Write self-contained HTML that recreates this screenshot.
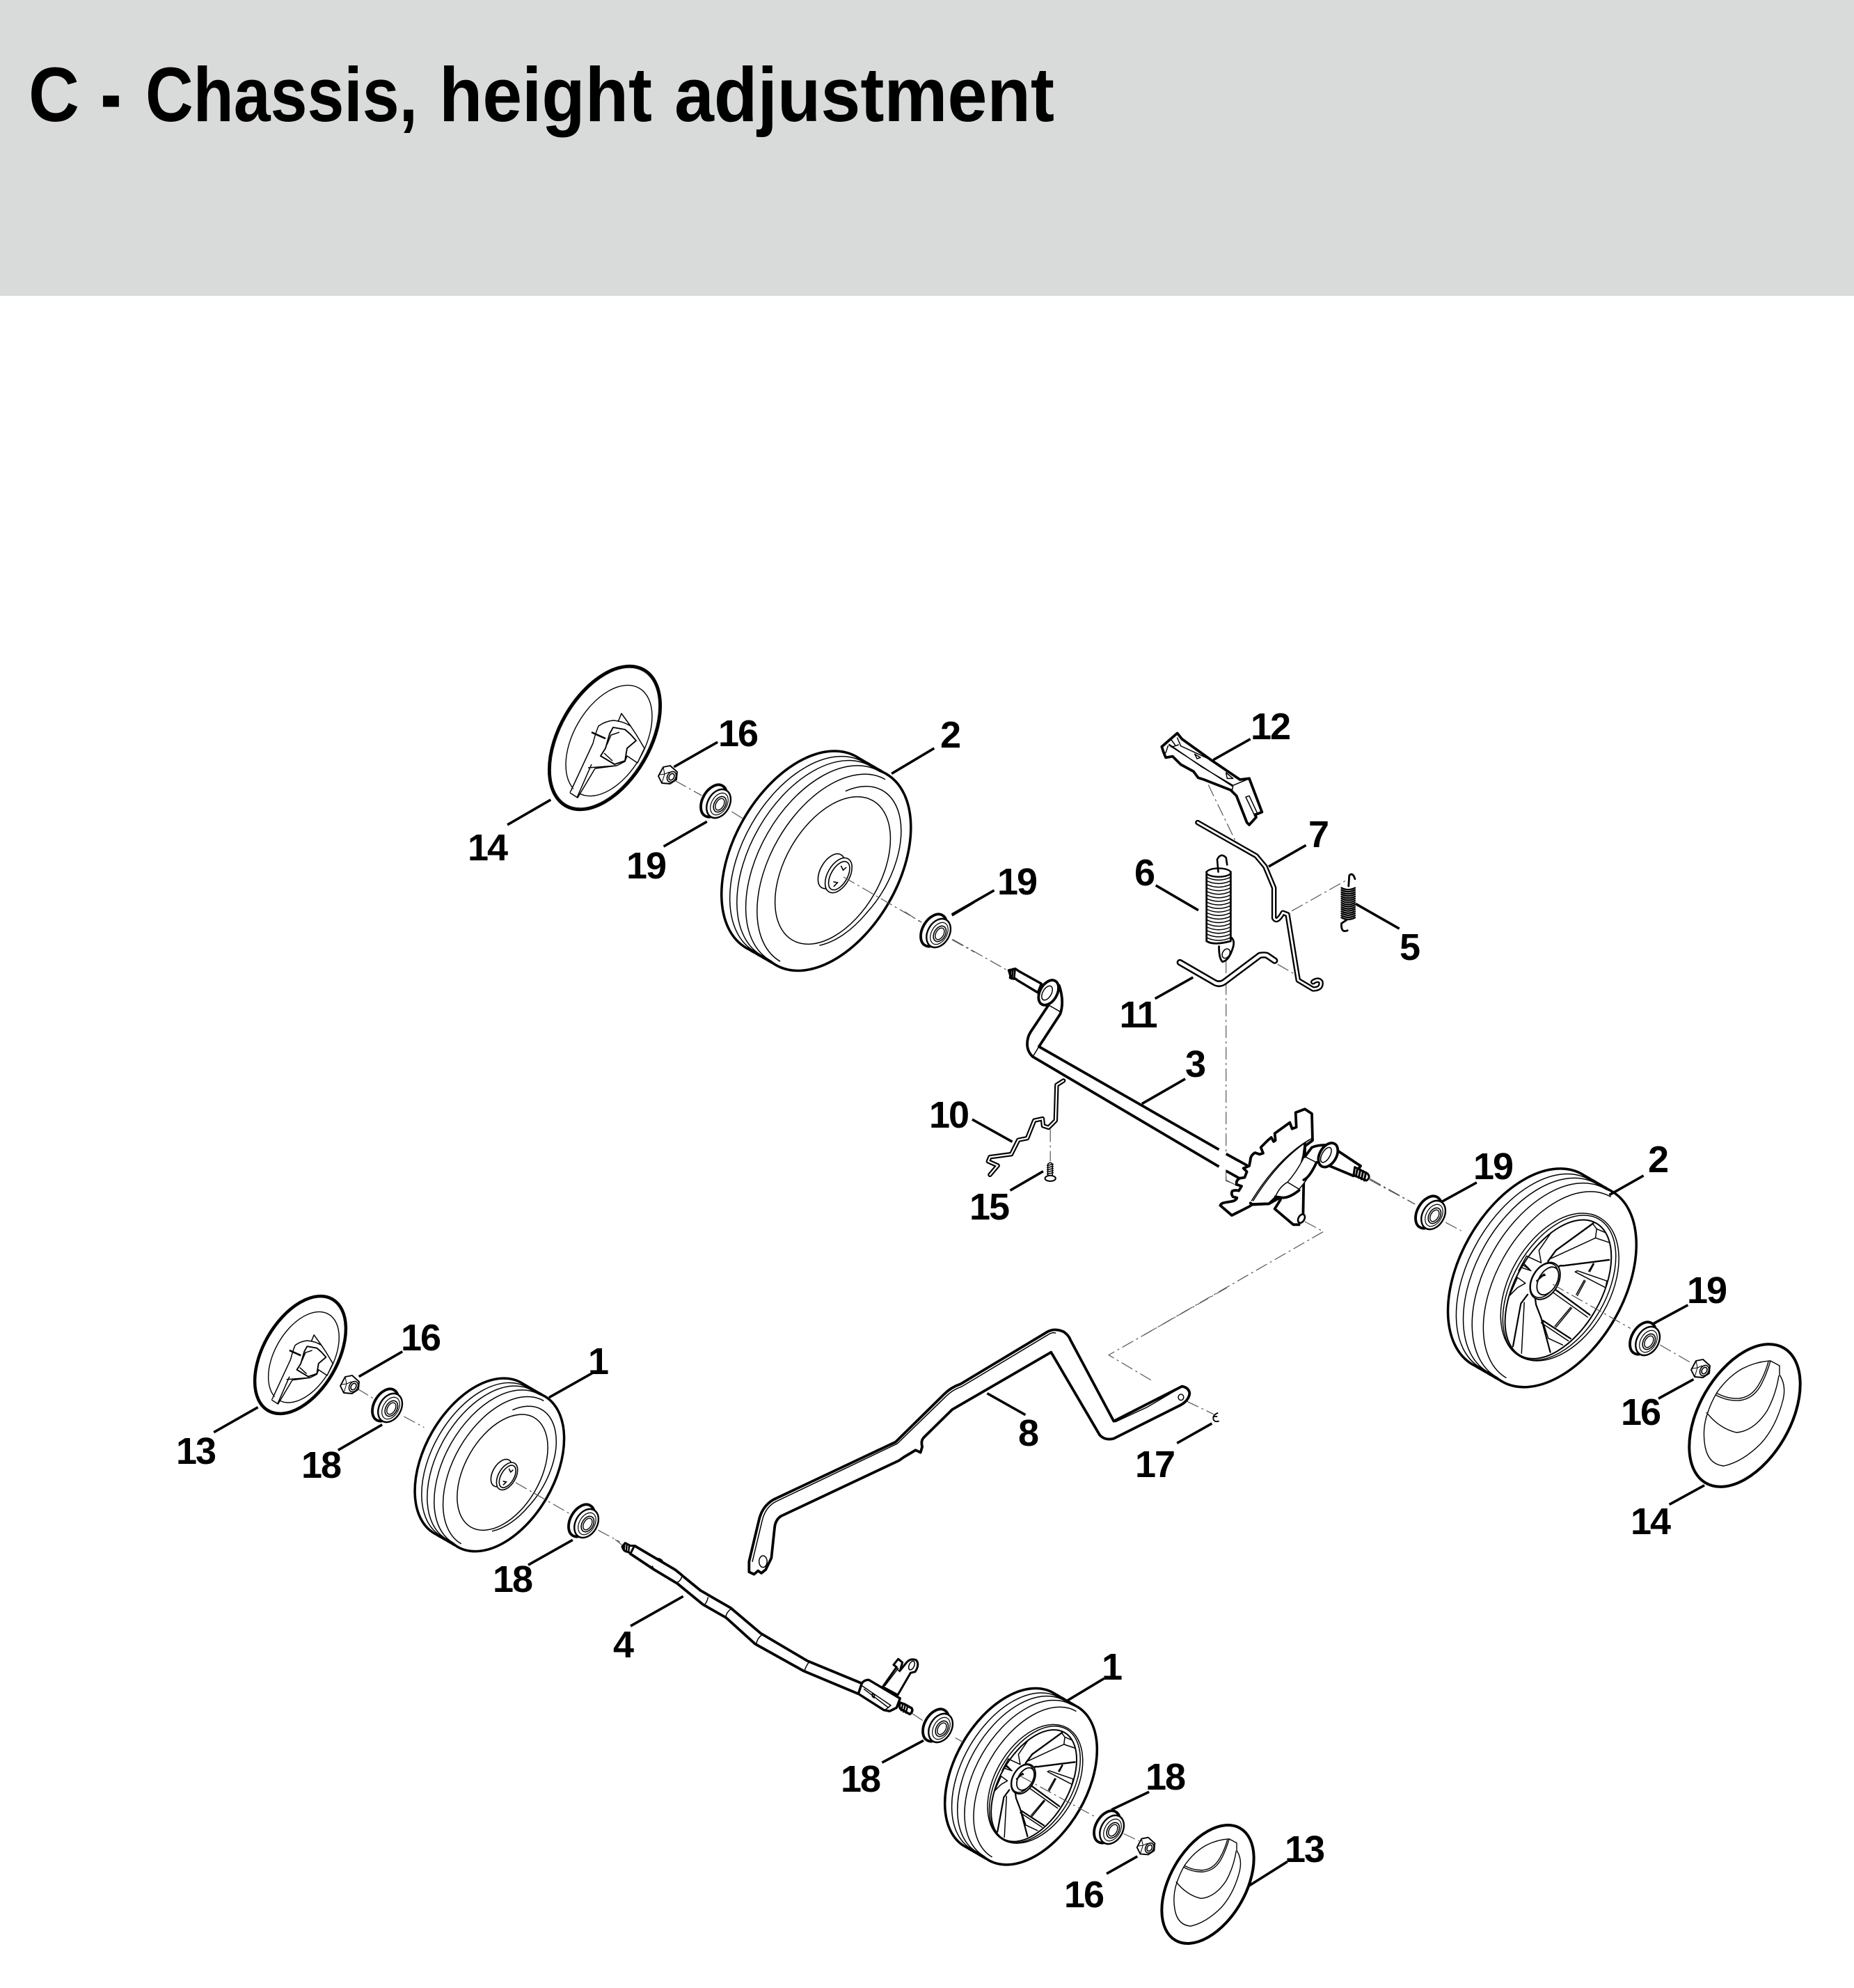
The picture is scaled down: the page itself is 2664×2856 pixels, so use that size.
<!DOCTYPE html>
<html lang="en"><head><meta charset="utf-8"><title>C - Chassis, height adjustment</title>
<style>
html,body{margin:0;padding:0;background:#fff}
svg{display:block}
svg *{vector-effect:non-scaling-stroke}
.t{font:bold 54px "Liberation Sans",sans-serif;text-anchor:middle;letter-spacing:-2px;fill:#000}
.l{stroke:#000;stroke-width:3.6;fill:none;stroke-linecap:butt}
.d{stroke:#555;stroke-width:1.2;fill:none;stroke-dasharray:18 5 3 5}
.k{stroke:#000;stroke-width:3.8;fill:#fff;stroke-linejoin:round;stroke-linecap:round}
.kn{stroke:#000;stroke-width:3.8;fill:none;stroke-linejoin:round;stroke-linecap:round}
.n{stroke:#000;stroke-width:1.5;fill:none;stroke-linejoin:round;stroke-linecap:round}
.w{stroke:#fff;fill:none;stroke-linejoin:round;stroke-linecap:round}
.b{stroke:#000;fill:none;stroke-linejoin:round;stroke-linecap:round}
.h{font:bold 110px "Liberation Sans",sans-serif;fill:#000}
</style></head><body>
<svg xmlns="http://www.w3.org/2000/svg" width="2664" height="2856" viewBox="0 0 2664 2856">
<defs>
<g id="tread"><g transform="rotate(30)">
<g fill="none" stroke="#000" stroke-width="7">
<ellipse cx="-50" rx="96" ry="160"/><ellipse cx="-40" rx="96" ry="160"/><ellipse cx="-30" rx="96" ry="160"/><ellipse cx="-20" rx="96" ry="160"/><ellipse cx="-10" rx="96" ry="160"/><ellipse cx="0" rx="96" ry="160"/></g>
<g fill="#fff" stroke="#000" stroke-width="1.5">
<ellipse cx="-50" rx="96" ry="160" stroke="none"/><ellipse cx="-38" rx="96" ry="160"/><ellipse cx="-26" rx="96" ry="160"/><ellipse cx="-11" rx="96" ry="160"/><ellipse cx="0" rx="96" ry="160" stroke="none"/>
<path d="M3,-154 A91,152 0 0 0 3,154" fill="none"/>
</g></g></g>
<g id="plainface"><g transform="rotate(30)" stroke="#000" stroke-width="1.5" fill="none">
<ellipse cx="3" rx="70" ry="118"/>
<path d="M-40,-110 A74,124 0 0 1 76,30 A74,124 0 0 1 40,105" transform="translate(1,0)"/>
<g fill="#fff" stroke-width="1.6">
<ellipse cx="2" cy="2" rx="16" ry="28"/><ellipse cx="14" cy="2" rx="16" ry="28"/><ellipse cx="15" cy="2" rx="12" ry="23"/>
<path d="M10,-12 L16,-8 L18,-14 M12,14 L18,12 L16,20" fill="none"/></g></g></g>
<g id="spk" fill="none" stroke="#000" stroke-width="1.5" stroke-linejoin="round" stroke-linecap="round">
<g transform="rotate(30 337 372)"><ellipse cx="337" cy="372" rx="222" ry="354"/></g>
<g transform="rotate(30 335 375)"><ellipse cx="335" cy="375" rx="206" ry="350"/></g>
<g transform="rotate(30 330 382)"><ellipse cx="330" cy="382" rx="189" ry="337" stroke-width="2"/></g>
<path d="M285,258 L320,210 L485,90" stroke-width="2.4"/>
<path d="M300,245 L495,155 L555,175 M495,155 L500,115 L535,130 M500,115 L485,95"/>
<path d="M330,285 Q335,275 350,278 L555,252" stroke-width="2.4"/>
<path d="M485,268 L465,302 M488,270 L470,304"/>
<path d="M405,305 L540,375 L545,345 L415,300 Z M450,345 L415,410 M445,342 L410,405"/>
<path d="M320,385 L470,495" stroke-width="2.2"/><path d="M310,398 L460,505 M390,465 L320,550 M385,462 L315,545"/>
<path d="M262,520 L385,600" stroke-width="2.2"/><path d="M255,530 L375,610 M285,598 L350,628"/>
<path d="M228,420 L232,450 L255,510 L295,660" stroke-width="2.2"/><path d="M262,525 L285,595"/>
<path d="M195,405 L165,445 L130,635" stroke-width="2.2"/><path d="M180,440 L168,665"/>
<path d="M110,420 L150,330 L185,355 L150,375 L115,410"/>
<path d="M165,285 L210,300 M180,270 L205,295 L175,275"/>
<path d="M190,235 L255,265 L245,210 L300,130 M190,235 L155,300"/>
<g transform="rotate(30 272 345)" fill="#fff"><ellipse cx="272" cy="345" rx="58" ry="88" stroke-width="2"/><ellipse cx="268" cy="345" rx="52" ry="82"/></g>
<g transform="rotate(30 284 345)"><ellipse cx="284" cy="345" rx="40" ry="67" fill="#fff" stroke-width="1.8"/></g>
<path d="M235,345 L262,322 L272,320 M255,325 L268,315" stroke-width="2"/>
</g>
<g id="bearing"><g transform="rotate(30)" fill="#fff" stroke="#000">
<ellipse cx="-5" rx="16" ry="25" stroke-width="3.8"/>
<ellipse cx="3" rx="15.5" ry="22" stroke-width="2.4"/>
<ellipse cx="4" rx="11" ry="17" stroke-width="1.2"/>
<ellipse cx="5" rx="8" ry="12" stroke-width="1.6"/>
<ellipse cx="5" rx="5.5" ry="9" stroke-width="1.4"/></g></g>
<g id="nut">
<path d="M-14,1 L-7,-12 L3,-14 L13,-5 L12,6 L3,12 L-9,11 Z" fill="#fff" stroke="#000" stroke-width="1.9" stroke-linejoin="round"/>
<path d="M-7,-12 L-5,-2 L2,-5 M-5,-2 L-9,11 M-12,-1 L-5,-2" fill="none" stroke="#000" stroke-width="1"/>
<g transform="translate(5,2) rotate(30)" fill="#fff" stroke="#000" stroke-width="1.6"><ellipse rx="6" ry="8"/><ellipse rx="3.5" ry="5"/></g>
</g>
<g id="capb">
<g transform="translate(869,1060) rotate(30)" fill="#fff" stroke="#000"><ellipse rx="65.5" ry="113" stroke-width="4"/><ellipse rx="63" ry="110.5" stroke-width="1"/></g>
<g transform="translate(875,1064) rotate(30)" fill="none" stroke="#000" stroke-width="1.4"><ellipse rx="51" ry="87"/></g>
<g fill="none" stroke="#000" stroke-width="1.5" stroke-linejoin="round">
<path d="M819,1139 L852,1068 Q856,1052 860,1043 Q870,1036 881,1035 Q895,1036 906,1043 L893,1025 L888,1037" fill="#fff"/>
<path d="M819,1139 L830,1146 L855,1104 L886,1100 L898,1094 L901,1086 L916,1096 L926,1075 L914,1055 L906,1043" fill="#fff"/>
<path d="M881,1045 L898,1048 L906,1055 L914,1064 L901,1075 L898,1093 L883,1098 L863,1086 L870,1075 L876,1054 Z" fill="#fff" stroke-width="1.9"/>
<path d="M868,1082 L880,1093 M872,1070 L878,1056 L890,1052"/>
<path d="M850,1052 L870,1061" stroke-width="2.6"/>
<path d="M845,1103 L885,1100 M829,1146 L850,1098"/>
</g></g>
<g id="caps">
<g transform="translate(2507,2033.5) rotate(30)" fill="#fff" stroke="#000"><ellipse rx="65.5" ry="112" stroke-width="4"/></g>
<g fill="none" stroke="#000" stroke-width="1.4" stroke-linejoin="round">
<path d="M2544,1955 L2557,1962 L2557,1975 Q2567,1990 2562,2011 Q2552,2050 2530,2074 Q2504,2100 2477,2106 Q2455,2104 2450,2078 Q2446,2056 2452,2035 Q2458,2015 2468,1999 Q2484,1977 2504,1966 Q2524,1956 2544,1955 Z"/>
<path d="M2466,2001 Q2482,2010 2499,2009 Q2516,2007 2526,1991 Q2536,1975 2541,1956"/>
<path d="M2465,2004 Q2482,2013 2499,2012 Q2518,2010 2529,1992 Q2538,1976 2544,1955"/>
<path d="M2452,2029 Q2470,2052 2495,2058 Q2520,2056 2539,2027 Q2552,2003 2556,1976"/>
</g></g>
</defs>

<rect x="0" y="0" width="2664" height="425" fill="#d9dbda"/>
<text class="h" x="41" y="174" textLength="73" lengthAdjust="spacingAndGlyphs">C</text>
<text class="h" x="146" y="174" textLength="27" lengthAdjust="spacingAndGlyphs" stroke="#000" stroke-width="3">-</text>
<text class="h" x="209" y="174" textLength="391" lengthAdjust="spacingAndGlyphs">Chassis,</text>
<text class="h" x="631" y="174" textLength="306" lengthAdjust="spacingAndGlyphs">height</text>
<text class="h" x="969" y="174" textLength="546" lengthAdjust="spacingAndGlyphs">adjustment</text>

<!-- wheels -->
<g transform="translate(1194,1249) scale(.98)"><use href="#tread"/><use href="#plainface"/></g>
<g transform="translate(2237,1848) scale(.975)"><use href="#tread"/><g transform="translate(-108,-123) scale(.33333)"><use href="#spk"/></g></g>
<g transform="translate(720,2114) scale(.77)"><use href="#tread"/><use href="#plainface"/></g>
<g transform="translate(1484,2562) scale(.785)"><use href="#tread"/><g transform="translate(-108,-123) scale(.33333)"><use href="#spk"/></g></g>

<!-- caps -->
<use href="#capb"/>
<g transform="translate(431.5,1946.5) scale(.82) translate(-869,-1060)"><use href="#capb"/></g>
<use href="#caps"/>
<g transform="translate(1735.5,2707) scale(.83) translate(-2507,-2033.5)"><use href="#caps"/></g>

<!-- bearings -->
<use href="#bearing" x="1030" y="1153"/>
<use href="#bearing" x="1346" y="1339"/>
<use href="#bearing" x="2057" y="1744"/>
<use href="#bearing" x="2365" y="1925"/>
<use href="#bearing" x="558" y="2021"/>
<use href="#bearing" x="840" y="2187"/>
<use href="#bearing" x="1349" y="2481"/>
<use href="#bearing" x="1595" y="2627"/>
<!-- nuts -->
<use href="#nut" x="960" y="1114"/>
<use href="#nut" x="503" y="1990"/>
<use href="#nut" x="2444" y="1967"/>
<g transform="translate(1647,2653) scale(.95)"><use href="#nut"/></g>

<!-- zoom-1 region -->
<g transform="translate(600,900) scale(.5102,.3571)">
<path class="d" d="M725,620 L800,680 M885,745 L915,772 M1200,1008 L1420,1190 M1505,1260 L1568,1310"/>
<path class="l" d="M722,565 L845,465 M253,798 L375,697 M693,885 L815,785 M1335,592 L1455,490 M1505,1162 L1568,1108"/>
</g>

<!-- part 12 -->
<g transform="translate(1660,1040) scale(.33333)">
<path class="k" d="M28,98 L95,40 L115,65 L240,155 L365,240 L405,235 L460,380 L430,392 L435,402 L405,435 L395,425 L350,310 L325,285 L210,240 L185,232 L165,205 L110,175 L75,140 L45,145 L35,120 Z"/>
<path class="n" d="M60,88 L200,185 L335,265 L395,240 M60,92 L335,270 M70,100 L100,90 M45,125 L55,95 M335,270 L330,290 M110,95 L240,155 M70,70 L85,90 M95,60 L110,95 M170,130 L195,145 L180,150 Z M305,210 L335,235 L310,235 Z M390,315 L405,310 L440,385 L425,388 Z"/>
<path class="l" d="M250,155 L410,65"/>
</g>

<!-- zoom-2 region: linkage parts -->
<g transform="translate(1300,1000) scale(.5102)">
<path class="d" d="M0,607 L50,640 M135,685 L285,770 M855,250 L930,405 M905,745 L905,1365 L945,1380 M1090,605 L1250,515 M1050,755 L1110,790 M410,1220 L410,1310"/>
<!-- 7 -->
<path class="b" stroke-width="7.5" d="M825,356 L990,450 L1015,480 L1040,540 L1040,625 Q1048,640 1065,610 L1078,615 L1108,800 L1150,825 Q1175,825 1172,805 Q1165,795 1150,805"/>
<path class="w" stroke-width="2.8" d="M825,356 L990,450 L1015,480 L1040,540 L1040,625 Q1048,640 1065,610 L1078,615 L1108,800 L1150,825 Q1175,825 1172,805 Q1165,795 1150,805"/>
<!-- 6 -->
<path class="n" d="M883,495 L880,460 Q890,440 905,455 L908,475" style="stroke-width:2.6"/>
<path class="n" style="stroke-width:2.8" d="M850,495 L850,690 M918,495 L918,690 M920,680 Q932,690 922,715 Q912,745 895,748 Q885,740 885,705 M850,690 Q870,703 918,690"/>
<ellipse class="n" style="stroke-width:2.4" cx="884" cy="497" rx="34" ry="12"/>
<path class="n" d="M850,510 q34,16 68,0 m-68,10 q34,16 68,0 m-68,10 q34,16 68,0 m-68,10 q34,16 68,0 m-68,10 q34,16 68,0 m-68,10 q34,16 68,0 m-68,10 q34,16 68,0 m-68,10 q34,16 68,0 m-68,10 q34,16 68,0 m-68,10 q34,16 68,0 m-68,10 q34,16 68,0 m-68,10 q34,16 68,0 m-68,10 q34,16 68,0 m-68,10 q34,16 68,0 m-68,10 q34,16 68,0 m-68,10 q34,16 68,0 m-68,10 q34,16 68,0 m-68,10 q34,16 68,0"/>
<ellipse class="n" cx="905" cy="725" rx="10" ry="14" transform="rotate(30 905 725)"/>
<!-- 5 -->
<path class="n" style="stroke-width:2.8" d="M1250,535 L1252,505 Q1262,495 1268,515 M1245,630 L1230,640 Q1228,668 1247,660"/>
<path class="n" style="stroke-width:2.4" d="M1230,540 q19,10 38,0 m-38,6 q19,10 38,0 m-38,6 q19,10 38,0 m-38,6 q19,10 38,0 m-38,6 q19,10 38,0 m-38,6 q19,10 38,0 m-38,6 q19,10 38,0 m-38,6 q19,10 38,0 m-38,6 q19,10 38,0 m-38,6 q19,10 38,0 m-38,6 q19,10 38,0 m-38,6 q19,10 38,0 m-38,6 q19,10 38,0 m-38,6 q19,10 38,0 m-38,6 q19,10 38,0"/>
<!-- 11 -->
<path class="b" stroke-width="9.5" d="M775,750 L870,805 Q885,815 900,805 L1000,730 Q1012,728 1020,730 L1042,745"/>
<path class="w" stroke-width="4.5" d="M775,750 L870,805 Q885,815 900,805 L1000,730 Q1012,728 1020,730 L1042,745"/>
<!-- 3 shaft -->
<path d="M378,987 L965,1322 L950,1358 L360,1015 Q345,1000 345,980 Q345,960 355,945 L405,870 L430,815 L443,885 Z" fill="#fff"/>
<path class="kn" style="stroke-linecap:butt" d="M378,987 L885,1277 M905,1289 L965,1322 M360,1015 L885,1325 M905,1337 L950,1362"/>
<path class="kn" d="M360,1015 Q345,1000 345,980 Q345,960 355,945 L405,870 M378,987 L438,895 Q450,860 435,815"/>
<path class="n" d="M378,987 L362,1013 M405,870 L440,890"/>
<path class="k" style="stroke-width:3.4" d="M293,772 L312,768 L322,775 L385,810 L375,835 L317,800 L312,796 L300,795 Z"/>
<path class="n" style="stroke-width:2.6" d="M299,770 L296,794 M305,768 L302,796 M311,767 L308,797"/>
<g transform="rotate(30 405 835)"><ellipse class="k" cx="405" cy="835" rx="24" ry="38"/><ellipse class="n" cx="402" cy="838" rx="12" ry="22"/></g>
<!-- 10 -->
<path class="b" stroke-width="6.5" d="M447,1083 L428,1095 L425,1195 L405,1215 L390,1210 L388,1190 L365,1195 L345,1245 L320,1250 L300,1290 L240,1298 L235,1310 L262,1322 L240,1348"/>
<path class="w" stroke-width="2.2" d="M447,1083 L428,1095 L425,1195 L405,1215 L390,1210 L388,1190 L365,1195 L345,1245 L320,1250 L300,1290 L240,1298 L235,1310 L262,1322 L240,1348"/>
<!-- 15 screw -->
<path class="n" d="M403,1350 L403,1318 Q410,1310 416,1318 L416,1350 M401,1322 L418,1318 M401,1328 L418,1324 M401,1334 L418,1330 M401,1340 L418,1336 M401,1346 L418,1342"/>
<ellipse class="k" style="stroke-width:2" cx="410" cy="1358" rx="15" ry="8"/>
<!-- leaders -->
<path class="l" d="M1025,480 L1130,420 M707,533 L827,603 M1270,585 L1393,655 M705,852 L812,792 M133,615 L252,547 M668,1148 L790,1078 M190,1192 L303,1255 M297,1392 L390,1338"/>
</g>

<!-- zoom-8 region: sector -->
<g transform="translate(1640,1560) scale(.33333)">
<path class="d" d="M985,400 L1180,510 M705,585 L785,628 L0,1080"/>
<path class="d" style="stroke-dasharray:none;stroke-width:1" d="M365,360 L365,405 L410,430"/>
<path class="k" d="M340,515 Q345,505 360,503 L395,497 Q412,490 412,482 L395,478 Q385,465 392,453 Q405,448 420,452 L432,432 L410,425 Q408,405 425,398 L445,395 L455,370 L440,355 L465,345 L470,320 Q470,300 490,288 L510,295 L525,290 L515,265 L545,235 L560,222 L570,240 L578,235 L575,205 L640,158 L650,185 L668,178 L665,115 L705,100 L735,120 L738,235 L705,260 L700,300 L660,460 L600,480 L550,508 L480,510 L465,520 L390,558 Z"/>
<path class="n" d="M725,232 Q590,310 475,495 M732,228 Q596,312 482,495"/>
<path class="kn" d="M575,530 L600,490 M575,530 L655,598 L680,598 M700,405 L697,565 M705,250 L705,295 M470,505 L480,512 L550,508 L580,480"/>
<path d="M710,300 L735,265 Q760,255 790,255 L775,330 L755,330 Q720,400 680,450 Q640,482 610,482 L578,478 Q590,440 630,420 Q670,370 700,310 Z" fill="#fff"/>
<path class="kn" d="M705,305 L735,265 Q760,255 790,255 M755,330 Q725,395 700,405 M680,450 Q640,482 610,482 L578,478"/>
<path class="n" d="M700,310 Q670,370 630,415 Q595,435 578,478 M705,305 L755,330 M630,415 L680,445 M755,330 Q720,400 680,445"/>
<path class="k" d="M835,272 L945,345 L915,388 L800,340 Z"/>
<g transform="rotate(30 805 298)"><ellipse class="k" cx="805" cy="298" rx="36" ry="56"/><ellipse class="n" cx="797" cy="302" rx="17" ry="36"/></g>
<path class="k" style="stroke-width:3" d="M920,350 L975,378 Q990,395 970,408 L915,385 Z"/>
<path class="n" style="stroke-width:3" d="M932,355 L925,390 M944,361 L937,396 M956,367 L949,402 M968,373 L961,408"/>
<g transform="rotate(30 690 572)"><ellipse class="k" style="stroke-width:2.6" cx="690" cy="572" rx="13" ry="20"/></g>
</g>

<!-- zoom-3 region -->
<g transform="translate(1950,1600) scale(.4464,.3954)">
<path class="d" d="M40,240 L185,328 M285,395 L335,425 M630,620 L880,780 M975,840 L1075,905"/>
<path class="l" d="M272,320 L385,250 M812,295 L922,225 M950,765 L1065,695 M970,1035 L1083,965 M1005,1420 L1118,1350"/>
</g>

<!-- zoom-4 region -->
<g transform="translate(230,1830) scale(.4464,.3333)">
<path class="d" d="M635,495 L690,540 M785,615 L850,662 M1145,900 L1320,1035 M1410,1105 L1480,1155"/>
<path class="l" d="M640,443 L780,335 M1252,533 L1395,425 M173,683 L315,575 M573,760 L715,650 M1185,1255 L1328,1147"/>
</g>

<!-- zoom-5 region: part 8, 17 -->
<g transform="translate(1050,1850) scale(.4785,.3333)">
<path class="d" d="M1490,0 L1135,290 L1270,405 M1370,490 L1450,545"/>
<path class="k" d="M55,1225 L55,1180 L85,1000 Q95,940 130,912 L495,665 L640,460 Q660,430 690,415 L945,195 Q970,170 1000,190 Q1015,205 1020,225 L1150,575 L1355,425 Q1375,430 1378,455 Q1375,490 1345,510 L1150,650 Q1125,660 1108,635 L962,278 L665,525 L580,645 Q570,660 575,685 L570,710 L555,700 L520,730 L505,745 L150,985 Q135,1000 132,1030 L122,1165 L105,1215 L92,1230 L82,1220 L70,1235 Z"/>
<path class="n" d="M65,1180 L95,1000 Q105,945 135,922 L500,672 L645,470 Q665,440 695,425 L950,205 Q965,190 975,195 M1155,578 L1250,515 L1345,435 M962,278 L1108,635"/>
<ellipse class="n" cx="97" cy="1180" rx="12" ry="25"/>
<ellipse class="n" cx="1352" cy="472" rx="8" ry="13"/>
<path class="n" style="stroke-width:1.8" d="M1462,540 Q1445,550 1450,570 Q1455,580 1465,575 M1450,555 L1460,555"/>
<path class="l" d="M770,455 L885,548 M1340,670 L1445,585"/>
</g>

<!-- part 4 -->
<g transform="translate(880,2200) scale(.33333)">
<path class="d" d="M12,35 L40,58 M1292,785 L1345,820"/>
<path class="k" style="stroke:none" d="M95,62 L270,165 Q290,180 310,198 L380,255 L510,330 L640,440 L840,558 L1075,655 L1060,700 L825,602 L615,485 L490,372 L390,315 L280,225 L180,165 L75,95 Z"/>
<path class="kn" style="stroke-linecap:butt" d="M95,62 L270,165 Q290,180 310,198 L380,255 L510,330 L640,440 L840,558 L1075,655"/>
<path class="kn" style="stroke-linecap:butt" d="M75,95 L180,165 L280,225 L390,315 L490,372 L615,485 L825,602 L1060,700"/>
<path class="n" d="M300,190 Q298,210 280,220 M412,285 Q408,305 395,318 M510,335 Q490,350 488,372 M642,448 Q625,460 620,485 M846,565 Q832,585 828,602 M190,118 Q200,112 215,125 M172,150 Q178,165 190,172"/>
<path class="k" style="stroke-width:3" d="M42,65 L55,50 L78,62 L95,62 L78,95 L65,88 Q48,88 42,65 Z"/>
<path class="n" style="stroke-width:2.4" d="M52,58 L50,80 M62,56 L60,84 M72,60 L70,88"/>
<path class="k" style="stroke-width:3" d="M1165,670 L1225,585 L1212,575 L1232,550 L1250,565 L1240,600 L1268,565 Q1285,545 1310,555 Q1325,575 1305,605 L1285,610 L1230,705 Z"/>
<path class="n" d="M1175,665 L1232,590 M1225,590 L1238,605"/>
<g transform="rotate(25 1290 578)"><ellipse class="n" cx="1290" cy="578" rx="11" ry="20"/></g>
<path class="k" style="stroke-width:3.4" d="M1075,655 Q1085,640 1105,640 L1240,720 L1225,760 L1195,775 L1170,770 L1060,700 Z"/>
<path class="n" d="M1060,695 L1075,665 L1200,750 L1175,770 M1120,700 L1130,705 L1128,718 L1120,712 Z M1085,680 L1190,760"/>
<path class="k" style="stroke-width:3.4" d="M1240,738 L1260,745 L1290,762 Q1298,775 1282,788 L1250,770 Q1232,765 1240,738 Z"/>
<path class="n" style="stroke-width:2.4" d="M1252,745 L1245,772 M1262,750 L1255,778 M1272,756 L1265,782"/>
<path class="l" d="M78,408 L305,280"/>
</g>

<!-- zoom-6 region: remaining -->
<g transform="translate(850,2200) scale(.7015,.3827)">
<path class="d" d="M745,775 L760,790 M880,920 L1030,1070 M1090,1135 L1125,1165"/>
<path class="l" d="M972,638 L1050,552 M595,868 L680,785 M1065,1045 L1142,978 M1055,1285 L1118,1220 M1347,1330 L1425,1240"/>
</g>

<!-- labels -->
<g transform="translate(0,0)">
<text class="t" x="1825" y="1062">12</text><text class="t" x="1894" y="1217">7</text>
<text class="t" x="1644" y="1272">6</text><text class="t" x="2025" y="1379">5</text>
<text class="t" x="1635" y="1476">11</text><text class="t" x="1461" y="1285">19</text>
<text class="t" x="1717" y="1547">3</text><text class="t" x="1363" y="1620">10</text>
<text class="t" x="1421" y="1752">15</text><text class="t" x="1060" y="1072">16</text>
<text class="t" x="1365" y="1074">2</text><text class="t" x="700" y="1236">14</text>
<text class="t" x="928" y="1262">19</text><text class="t" x="2145" y="1694">19</text>
<text class="t" x="2382" y="1684">2</text><text class="t" x="2452" y="1872">19</text>
<text class="t" x="2357" y="2047">16</text><text class="t" x="2371" y="2204">14</text>
<text class="t" x="604" y="1940">16</text><text class="t" x="859" y="1974">1</text>
<text class="t" x="281" y="2103">13</text><text class="t" x="461" y="2123">18</text>
<text class="t" x="736" y="2287">18</text><text class="t" x="1477" y="2077">8</text>
<text class="t" x="1659" y="2122">17</text><text class="t" x="895" y="2381">4</text>
<text class="t" x="1597" y="2413">1</text><text class="t" x="1236" y="2574">18</text>
<text class="t" x="1674" y="2571">18</text><text class="t" x="1557" y="2740">16</text>
<text class="t" x="1874" y="2675">13</text>
</g>
</svg>
</body></html>
